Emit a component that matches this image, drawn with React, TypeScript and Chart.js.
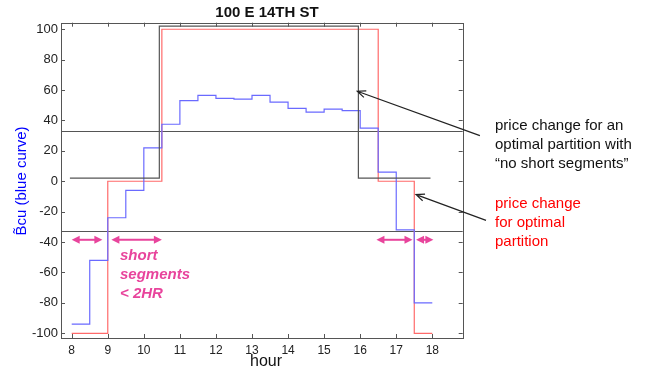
import React, { useEffect, useRef } from "react";
import { Chart, registerables } from "chart.js";

Chart.register(...registerables);

const hourTicks = [8, 9, 10, 11, 12, 13, 14, 15, 16, 17, 18];
const valueTicks = [-100, -80, -60, -40, -20, 0, 20, 40, 60, 80, 100];

const blueEdges = [8, 8.5, 9, 9.5, 10, 10.5, 11, 11.5, 12, 12.5, 13, 13.5, 14, 14.5, 15, 15.5, 16, 16.5, 17, 17.5, 18];
const blueValues = [-94, -52, -24, -6, 22, 37.5, 53, 56.5, 54.5, 54, 56.5, 52, 48, 45.5, 47.5, 46.5, 35, 6, -32, -80];

const redEdges = [8, 9, 10.5, 16.5, 17.5, 18];
const redValues = [-100, 0, 100, 0, -100];

const blackEdges = [7.95, 10.43, 15.95, 17.95];
const blackValues = [2, 102, 2];

const thresholdLevels = [33, -33];

const shortSegmentStarts = [8.0, 9.1, 16.45, 17.55];
const shortSegmentEnds = [8.85, 10.5, 17.45, 18.03];
const shortSegmentLevel = -38.5;

const pointerTailX = [19.32, 19.49];
const pointerTailY = [30, -25.7];
const pointerHeadX = [15.92, 17.55];
const pointerHeadY = [59.2, -8.75];

const titleText = "100 E 14TH ST";
const xTitle = "hour";
const yTitle = "B\u0303cu (blue curve)";
const blackNote = ["price change for an", "optimal partition with", "\u201cno short segments\u201d"];
const redNote = ["price change", "for optimal", "partition"];
const shortNote = ["short", "segments", "< 2HR"];

function toSteps(edges: number[], values: number[]) {
  return edges.map((e, i) => ({ x: e, y: values[Math.min(i, values.length - 1)] }));
}

const FONT = '"Liberation Sans", Arial, sans-serif';
const MAGENTA = "#e8449c";

const overlay = {
  id: "overlay",
  beforeDatasetsDraw(chart: any) {
    const { ctx, chartArea, scales } = chart;
    const y = scales.y;
    ctx.save();
    ctx.strokeStyle = "#555";
    ctx.lineWidth = 1;
    thresholdLevels.forEach((lv) => {
      const py = Math.round(y.getPixelForValue(lv)) + 0.5;
      ctx.beginPath();
      ctx.moveTo(chartArea.left, py);
      ctx.lineTo(chartArea.right, py);
      ctx.stroke();
    });
    ctx.restore();
  },
  afterDatasetsDraw(chart: any) {
    const { ctx, chartArea, scales } = chart;
    const x = scales.x;
    const y = scales.y;
    const { left, right, top, bottom } = chartArea;
    ctx.save();
    // box
    ctx.strokeStyle = "#555";
    ctx.lineWidth = 1;
    ctx.strokeRect(Math.round(left) + 0.5, Math.round(top) + 0.5, Math.round(right - left), Math.round(bottom - top));
    // inward ticks
    ctx.beginPath();
    hourTicks.forEach((t) => {
      const px = Math.round(x.getPixelForValue(t)) + 0.5;
      ctx.moveTo(px, bottom);
      ctx.lineTo(px, bottom - 4);
      ctx.moveTo(px, top);
      ctx.lineTo(px, top + 4);
    });
    valueTicks.forEach((t) => {
      const py = Math.round(y.getPixelForValue(t)) + 0.5;
      ctx.moveTo(left, py);
      ctx.lineTo(left + 4, py);
      ctx.moveTo(right, py);
      ctx.lineTo(right - 4, py);
    });
    ctx.stroke();

    // magenta double arrows
    ctx.strokeStyle = MAGENTA;
    ctx.fillStyle = MAGENTA;
    ctx.lineWidth = 2;
    const py = y.getPixelForValue(shortSegmentLevel);
    const head = (tipX: number, dir: number) => {
      ctx.beginPath();
      ctx.moveTo(tipX, py);
      ctx.lineTo(tipX - dir * 8, py - 4);
      ctx.lineTo(tipX - dir * 8, py + 4);
      ctx.closePath();
      ctx.fill();
    };
    shortSegmentStarts.forEach((s, i) => {
      const x0 = x.getPixelForValue(s);
      const x1 = x.getPixelForValue(shortSegmentEnds[i]);
      ctx.beginPath();
      ctx.moveTo(x0 + 4, py);
      ctx.lineTo(x1 - 4, py);
      ctx.stroke();
      head(x0, -1);
      head(x1, 1);
    });

    // black pointer arrows
    ctx.strokeStyle = "#222";
    ctx.lineWidth = 1.2;
    pointerTailX.forEach((tx, i) => {
      const x0 = x.getPixelForValue(tx);
      const y0 = y.getPixelForValue(pointerTailY[i]);
      const x1 = x.getPixelForValue(pointerHeadX[i]);
      const y1 = y.getPixelForValue(pointerHeadY[i]);
      const ang = Math.atan2(y1 - y0, x1 - x0);
      ctx.beginPath();
      ctx.moveTo(x0, y0);
      ctx.lineTo(x1, y1);
      ctx.moveTo(x1 - 9 * Math.cos(ang - 0.4), y1 - 9 * Math.sin(ang - 0.4));
      ctx.lineTo(x1, y1);
      ctx.lineTo(x1 - 9 * Math.cos(ang + 0.4), y1 - 9 * Math.sin(ang + 0.4));
      ctx.stroke();
    });

    // texts
    ctx.textBaseline = "middle";
    ctx.textAlign = "center";
    ctx.fillStyle = "#111";
    ctx.font = `bold 15px ${FONT}`;
    ctx.fillText(titleText, 267, 13);
    ctx.font = `16px ${FONT}`;
    ctx.fillText(xTitle, 266, 362);

    ctx.save();
    ctx.translate(22, 181);
    ctx.rotate(-Math.PI / 2);
    ctx.fillStyle = "#0000ff";
    ctx.font = `15px ${FONT}`;
    ctx.fillText(yTitle, 0, 0);
    ctx.restore();

    ctx.textAlign = "left";
    ctx.font = `15px ${FONT}`;
    ctx.fillStyle = "#111";
    blackNote.forEach((t, i) => ctx.fillText(t, 495, 126 + i * 19));
    ctx.fillStyle = "#ff0000";
    redNote.forEach((t, i) => ctx.fillText(t, 495, 204 + i * 19));
    ctx.fillStyle = MAGENTA;
    ctx.font = `italic bold 15px ${FONT}`;
    shortNote.forEach((t, i) => ctx.fillText(t, 120, 256 + i * 19));
    ctx.restore();
  },
};

export default function App() {
  const ref = useRef<HTMLCanvasElement>(null);
  useEffect(() => {
    if (!ref.current) return;
    const chart = new Chart(ref.current, {
      type: "line",
      data: {
        datasets: [
          {
            data: toSteps(blackEdges, blackValues),
            borderColor: "#555",
            borderWidth: 1.2,
            stepped: true,
            pointRadius: 0,
          },
          {
            data: toSteps(blueEdges, blueValues),
            borderColor: "#6a6aff",
            borderWidth: 1.2,
            stepped: true,
            pointRadius: 0,
          },
          {
            data: toSteps(redEdges, redValues),
            borderColor: "#ff6a6a",
            borderWidth: 1.2,
            stepped: true,
            pointRadius: 0,
          },
        ],
      },
      plugins: [overlay],
      options: {
        animation: false,
        responsive: false,
        devicePixelRatio: 1,
        layout: { padding: { left: 0, top: 22.7, right: 185.3, bottom: 0 } },
        plugins: { legend: { display: false }, tooltip: { enabled: false }, title: { display: false } },
        scales: {
          x: {
            type: "linear",
            min: 7.703,
            max: 18.843,
            grid: { display: false, drawTicks: false },
            border: { display: false },
            afterBuildTicks: (s: any) => {
              s.ticks = hourTicks.map((v) => ({ value: v }));
            },
            afterFit: (s: any) => {
              s.height = 34;
            },
            ticks: {
              padding: 5,
              color: "#222",
              font: { family: FONT, size: 12 },
              maxRotation: 0,
              autoSkip: false,
            },
          },
          y: {
            type: "linear",
            min: -103.1,
            max: 104.3,
            grid: { display: false, drawTicks: false },
            border: { display: false },
            afterBuildTicks: (s: any) => {
              s.ticks = valueTicks.map((v) => ({ value: v }));
            },
            afterFit: (s: any) => {
              s.width = 61;
            },
            ticks: {
              padding: 3,
              color: "#222",
              font: { family: FONT, size: 13 },
              autoSkip: false,
            },
          },
        },
      },
    });
    return () => chart.destroy();
  }, []);
  return (
    <div style={{ position: "absolute", left: 0, top: 0, width: 648, height: 372, background: "#fff" }}>
      <canvas ref={ref} width={648} height={372} style={{ width: 648, height: 372, display: "block" }} />
    </div>
  );
}
